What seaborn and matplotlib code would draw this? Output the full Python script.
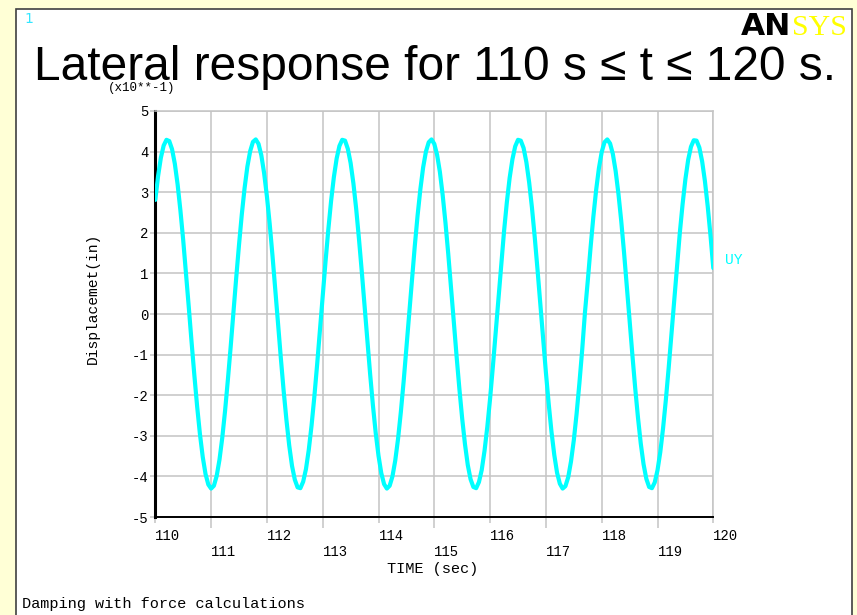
import numpy as np
import matplotlib
matplotlib.use("Agg")
import matplotlib.pyplot as plt
import seaborn as sns
from matplotlib.patches import Rectangle

# ---------------- data ----------------
t_start, t_end = 110.0, 120.0
uy = [
    2.81, 3.40, 3.85, 4.15, 4.29, 4.26, 4.06, 3.70, 3.19, 2.55,
    1.82, 1.01, 0.17, -0.69, -1.51, -2.28, -2.96, -3.52, -3.94, -4.20,
    -4.30, -4.23, -3.99, -3.59, -3.05, -2.39, -1.63, -0.82, 0.04, 0.89,
    1.70, 2.45, 3.10, 3.63, 4.01, 4.24, 4.30, 4.19, 3.91, 3.47,
    2.90, 2.22, 1.44, 0.61, -0.24, -1.09, -1.89, -2.61, -3.24, -3.74,
    -4.08, -4.27, -4.29, -4.13, -3.82, -3.35, -2.75, -2.04, -1.25, -0.41,
    0.44, 1.28, 2.07, 2.78, 3.37, 3.83, 4.14, 4.29, 4.27, 4.07,
    3.72, 3.22, 2.59, 1.85, 1.05, 0.21, -0.65, -1.48, -2.25, -2.93,
    -3.49, -3.92, -4.19, -4.30, -4.23, -4.00, -3.61, -3.08, -2.42, -1.67,
    -0.85, 0.00, 0.85, 1.67, 2.42, 3.07, 3.61, 4.00, 4.23, 4.30,
    4.19, 3.92, 3.50, 2.93, 2.25, 1.48, 0.65, -0.20, -1.05, -1.85,
    -2.58, -3.21, -3.72, -4.07, -4.26, -4.29, -4.14, -3.84, -3.37, -2.78,
    -2.08, -1.29, -0.45, 0.41, 1.25, 2.04, 2.75, 3.35, 3.81, 4.13,
    4.29, 4.27, 4.09, 3.74, 3.24, 2.62, 1.89, 1.09, 0.25, -0.61,
    -1.44, -2.21, -2.90, -3.47, -3.91, -4.18, -4.30, -4.24, -4.02, -3.63,
    -3.11, -2.46, -1.71, -0.89, 0.04, 0.81, 1.63, 2.39, 3.05, 3.59,
    3.99, 4.23, 4.30, 4.20, 3.94, 3.52, 2.96, 2.29, 1.52, 0.69,
    -0.16, -1.01, -1.82, -2.55, -3.19, -3.70, -4.06, -4.26, -4.29, -4.15,
    -3.85, -3.40, -2.81, -2.11, -1.33, -0.49, 0.37, 1.21, 2.00, 2.71,
    3.32, 3.80, 4.12, 4.28, 4.27, 4.10, 3.76, 3.27, 2.65, 1.93,
    1.13,
]
time = np.linspace(t_start, t_end, len(uy))

major_xticks = [110, 112, 114, 116, 118, 120]
minor_xticks = [111, 113, 115, 117, 119]
yticks = [-5, -4, -3, -2, -1, 0, 1, 2, 3, 4, 5]

title = "Lateral response for 110 s \u2264 t \u2264 120 s."
ylabel = "Displacemet(in)"
xlabel = "TIME (sec)"
scale_note = "(x10**-1)"
series_name = "UY"
footer = "Damping with force calculations"

# ---------------- style ----------------
sns.set_style("white")
plt.rcParams["font.family"] = ["Liberation Mono", "DejaVu Sans Mono"]
plt.rcParams["text.color"] = "black"

W, H = 857, 615
fig = plt.figure(figsize=(W / 100, H / 100), dpi=100, facecolor="#FFFFD6")

def fx(px):
    return px / W

def fy(py):
    return 1 - py / H

panel = Rectangle((fx(16), -0.05), fx(852) - fx(16), fy(9) + 0.05,
                  transform=fig.transFigure, facecolor="white",
                  edgecolor="#404040", lw=1.2, zorder=-10)
fig.patches.append(panel)

ax = fig.add_axes([fx(155.3), fy(517), fx(713.3) - fx(155.3), fy(111) - fy(517)])
ax.set_zorder(5)
ax.set_facecolor("white")

grid_c = "#C4C4C4"
sns.lineplot(x=time, y=uy, ax=ax, color="#00FFFF", linewidth=3.0, zorder=3)

ax.set_xlim(t_start, t_end)
ax.set_ylim(-5, 5)
ax.set_xticks(major_xticks)
ax.set_xticks(minor_xticks, minor=True)
ax.set_xticklabels([str(v) for v in major_xticks])
ax.set_xticklabels([str(v) for v in minor_xticks], minor=True)
ax.set_yticks(yticks)
ax.set_yticklabels([str(v) for v in yticks])

ax.grid(True, axis="x", which="both", color=grid_c, lw=1.1, zorder=1)
ax.grid(True, axis="y", which="major", color=grid_c, lw=1.1, zorder=1)
ax.set_axisbelow(True)

ax.tick_params(axis="x", which="major", length=4.5, width=1.1, color=grid_c,
               pad=4.5, labelsize=10, labelcolor="black", bottom=True)
ax.tick_params(axis="x", which="minor", length=8, width=1.1, color=grid_c,
               pad=12, labelsize=10, labelcolor="black", bottom=True)
ax.tick_params(axis="y", which="major", length=3.6, width=1.1, color=grid_c,
               pad=1.5, labelsize=10, labelcolor="black", left=True)
for lbl in ax.get_xticklabels(which="both"):
    lbl.set_horizontalalignment("left")

ax.spines["left"].set_color("black")
ax.spines["left"].set_linewidth(2.2)
ax.spines["bottom"].set_color("black")
ax.spines["bottom"].set_linewidth(1.4)
for s in ("top", "right"):
    ax.spines[s].set_visible(True)
    ax.spines[s].set_color(grid_c)
    ax.spines[s].set_linewidth(1.1)
ax.set_xlabel("")
ax.set_ylabel("")

# ---------------- texts ----------------
fig.text(fx(24), fy(23), "1", color="#33E6FF", fontsize=10,
         family=["DejaVu Sans"], va="baseline", ha="left")
fig.text(fx(34), fy(80), title, fontsize=34.5,
         family=["Liberation Sans", "DejaVu Sans"], va="baseline", ha="left")
fig.text(fx(791.5), fy(35), "AN", fontsize=22.5, weight="black",
         family=["DejaVu Sans"], va="baseline", ha="right", color="black")
fig.text(fx(791.5), fy(35), "SYS", fontsize=21.5,
         family=["Liberation Serif"], va="baseline", ha="left", color="#FFFF00")
fig.text(fx(142), fy(88), scale_note, fontsize=9, ha="center", va="center")
fig.text(fx(92.7), fy(298.5), ylabel, fontsize=10.5, rotation=90,
         ha="center", va="center")
fig.text(fx(433), fy(569), xlabel, fontsize=11, ha="center", va="center")
fig.text(fx(725), fy(260), series_name, fontsize=10.5, color="#00FFFF",
         ha="left", va="center")
fig.text(fx(22), fy(604), footer, fontsize=11, ha="left", va="center")

fig.savefig("out.png", dpi=100, facecolor=fig.get_facecolor())
